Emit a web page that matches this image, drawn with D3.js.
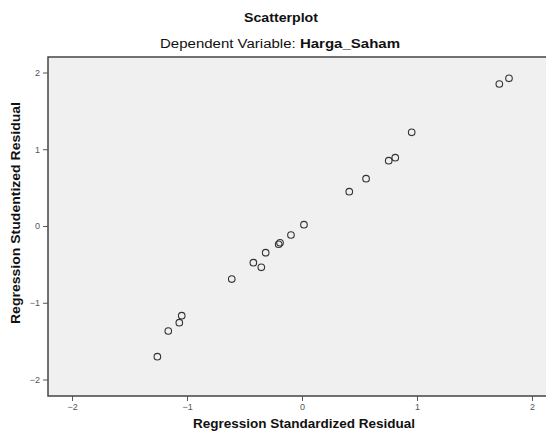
<!DOCTYPE html>
<html>
<head>
<meta charset="utf-8">
<script src="https://cdn.jsdelivr.net/npm/d3@7"></script>
<style>
  body { margin: 0; background: #fff; }
  text { font-family: "Liberation Sans", Arial, sans-serif; }
</style>
</head>
<body>
<svg width="546" height="438"></svg>
<script>
// standardized residual (x) vs studentized residual (y)
var stdResid = [-1.258, -1.163, -1.067, -1.046, -0.611, -0.423, -0.354, -0.316, -0.203, -0.191,
                -0.096, 0.017, 0.411, 0.557, 0.754, 0.811, 0.954, 1.716, 1.800];
var studResid = [-1.703, -1.368, -1.260, -1.169, -0.691, -0.478, -0.538, -0.348, -0.238, -0.218,
                 -0.117, 0.017, 0.447, 0.616, 0.851, 0.890, 1.221, 1.850, 1.924];
var xTicks = [-2, -1, 0, 1, 2];
var yTicks = [-2, -1, 0, 1, 2];

var svg = d3.select("svg");
var plot = { left: 48, top: 57, right: 552, bottom: 396 };

var x = d3.scaleLinear().domain([-2.209, 2.122]).range([plot.left, 546]);
var y = d3.scaleLinear().domain([-2.215, 2.202]).range([plot.bottom, plot.top]);

// plot background
svg.append("rect")
    .attr("x", plot.left)
    .attr("y", plot.top)
    .attr("width", plot.right - plot.left)
    .attr("height", plot.bottom - plot.top)
    .attr("fill", "#f0f0f0")
    .attr("stroke", "#444")
    .attr("stroke-width", 1.5);

// axes
var xAxis = svg.append("g")
    .attr("transform", "translate(0," + plot.bottom + ")")
    .call(d3.axisBottom(x).tickValues(xTicks).tickSize(5).tickPadding(3).tickFormat(d3.format("d")));
var yAxis = svg.append("g")
    .attr("transform", "translate(" + plot.left + ",0)")
    .call(d3.axisLeft(y).tickValues(yTicks).tickSize(5).tickPadding(3).tickFormat(d3.format("d")));

[xAxis, yAxis].forEach(function(a) {
    a.select(".domain").remove();
    a.selectAll(".tick line").attr("stroke", "#555");
    a.selectAll(".tick text")
        .attr("fill", "#555")
        .style("font-size", "9px")
        .style("font-family", "'Liberation Sans', Arial, sans-serif");
});

// points
svg.append("g")
    .selectAll("circle")
    .data(stdResid)
    .enter().append("circle")
    .attr("cx", function(d) { return x(d); })
    .attr("cy", function(d, i) { return y(studResid[i]); })
    .attr("r", 3.3)
    .attr("fill", "none")
    .attr("stroke", "#333")
    .attr("stroke-width", 1.1);

// titles (text in the source is drawn a bit wide, so stretch it)
svg.append("text")
    .attr("x", 281).attr("y", 22)
    .attr("text-anchor", "middle")
    .attr("textLength", 74)
    .attr("lengthAdjust", "spacingAndGlyphs")
    .style("font-size", "12px")
    .style("font-weight", "bold")
    .attr("fill", "#111")
    .text("Scatterplot");

var sub = svg.append("text")
    .attr("x", 280).attr("y", 48)
    .attr("text-anchor", "middle")
    .attr("textLength", 240)
    .attr("lengthAdjust", "spacingAndGlyphs")
    .style("font-size", "12.5px")
    .attr("fill", "#111");
sub.append("tspan").text("Dependent Variable: ");
sub.append("tspan").style("font-weight", "bold").text("Harga_Saham");

svg.append("text")
    .attr("x", 304).attr("y", 428)
    .attr("text-anchor", "middle")
    .attr("textLength", 222)
    .attr("lengthAdjust", "spacingAndGlyphs")
    .style("font-size", "12px")
    .style("font-weight", "bold")
    .attr("fill", "#111")
    .text("Regression Standardized Residual");

svg.append("text")
    .attr("transform", "translate(20,213) rotate(-90)")
    .attr("text-anchor", "middle")
    .attr("textLength", 222)
    .attr("lengthAdjust", "spacingAndGlyphs")
    .style("font-size", "12px")
    .style("font-weight", "bold")
    .attr("fill", "#111")
    .text("Regression Studentized Residual");
</script>
</body>
</html>
